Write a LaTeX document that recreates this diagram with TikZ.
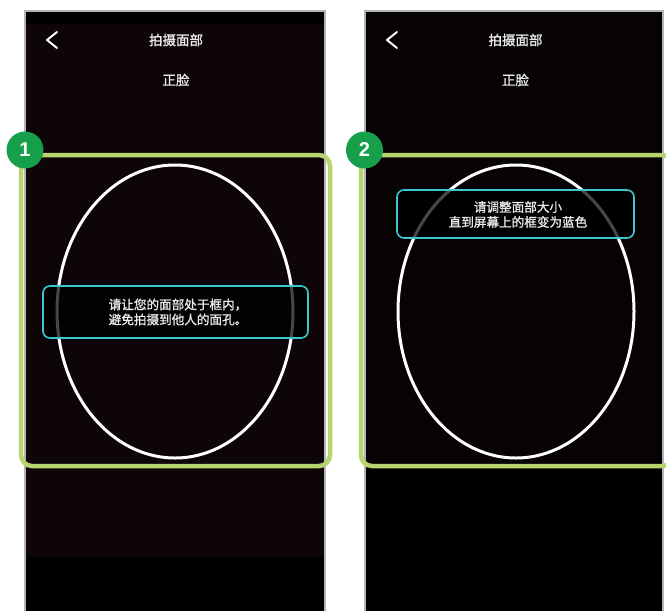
\documentclass[tikz,border=0pt]{standalone}
\usepackage{fontspec}
\newfontfamily\cjk[FakeBold=1.2]{Noto Sans CJK SC}
\newfontfamily\badgefont{Liberation Sans}
\definecolor{scr}{HTML}{0E0508}
\definecolor{scrB}{HTML}{070304}
\definecolor{phoneedge}{HTML}{B4B4B8}
\definecolor{frameg}{HTML}{B7D46E}
\definecolor{badgeg}{HTML}{17A04B}
\definecolor{tipc}{HTML}{3CC6D0}
\tikzset{
  phone/.style={draw=phoneedge, line width=2pt},
  oval/.style={draw=white, line width=3pt},
  tipbox/.style={draw=tipc, line width=1.6pt, rounded corners=7pt, fill=black, fill opacity=0.72},
  tiptext/.style={text=white!92!black, font=\cjk\fontsize{12.6}{15}\selectfont, align=center, inner sep=0pt},
  titletext/.style={text=white!92!black, font=\cjk\fontsize{13.5}{15}\selectfont, inner sep=0pt},
  framebox/.style={draw=frameg, line width=4.5pt, rounded corners=11pt},
  badge/.style={circle, fill=badgeg, minimum size=37pt, inner sep=0pt, text=white, font=\badgefont\bfseries\fontsize{20}{20}\selectfont},
  chev/.style={draw=white, line width=2pt, line cap=round, line join=round}
}
\begin{document}
\begin{tikzpicture}[x=1pt,y=-1pt]
\useasboundingbox (0,0) rectangle (666,611);
\fill[white] (0,0) rectangle (666,611);
\begin{scope}
\clip (0,0) rectangle (666,611);
% left phone screen
\fill[scr] (25,11) rectangle (325,611);
\fill[black!85!scr] (25,11) rectangle (325,24);
\fill[black] (25,557) rectangle (325,611);
\draw[phone] (25,611) -- (25,11) -- (325,11) -- (325,611);
% right phone screen
\fill[scrB] (365,11) rectangle (663,611);
\fill[black] (365,470) rectangle (663,611);
\draw[phone] (365,611) -- (365,11) -- (663,11) -- (663,611);

% headers
\draw[chev] (57,32) -- (47,40) -- (57,48);
\node[titletext] (t1) at (176,40) {拍摄面部};
\node[titletext] (f1) at (176,80) {正脸};
\draw[chev] (397,32) -- (387,40) -- (397,48);
\node[titletext] (t2) at (515.5,40) {拍摄面部};
\node[titletext] (f2) at (515.5,80) {正脸};

% ovals
\draw[oval] (175,311.5) ellipse [x radius=118, y radius=146.5];
\draw[oval] (516,311.5) ellipse [x radius=118, y radius=146.5];

% tip boxes
\draw[tipbox] (43,286) rectangle (308,338);
\node[tiptext] (tip1) at (178,312) {请让您的面部处于框内，\\避免拍摄到他人的面孔。};
\draw[tipbox] (397,190) rectangle (634,238);
\node[tiptext] (tip2) at (518,214.5) {请调整面部大小\\直到屏幕上的框变为蓝色};

% green frames
\draw[framebox] (21,155) rectangle (330,466);
\draw[framebox] (361,155) rectangle (673,466);
\end{scope}

% badges
\node[badge] (b1) at (25,150) {1};
\node[badge] (b2) at (364.5,150) {2};
\end{tikzpicture}
\end{document}
